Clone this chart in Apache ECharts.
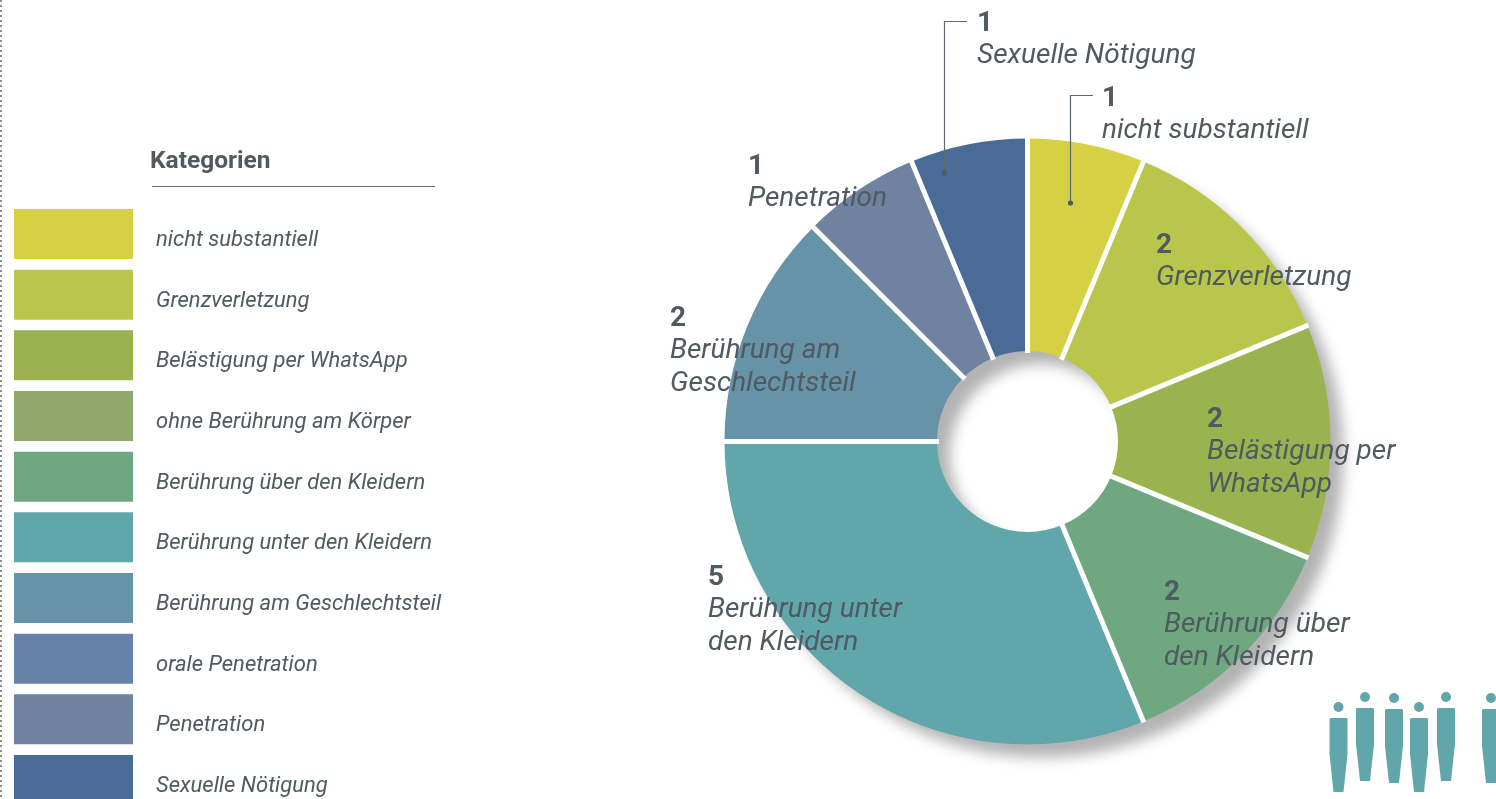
<!DOCTYPE html>
<html>
<head>
<meta charset="utf-8">
<style>html,body{margin:0;padding:0;background:#fff}#chart{width:1496px;height:799px}</style>
<script src="https://cdn.jsdelivr.net/npm/echarts@6/dist/echarts.min.js"></script>
</head>
<body>
<div id="chart"></div>
<script>
var categories = ['nicht substantiell', 'Grenzverletzung', 'Belästigung per WhatsApp', 'ohne Berührung am Körper',
  'Berührung über den Kleidern', 'Berührung unter den Kleidern', 'Berührung am Geschlechtsteil',
  'orale Penetration', 'Penetration', 'Sexuelle Nötigung'];
var values = [1, 2, 2, 0, 2, 5, 2, 0, 1, 1];
var colors = ['#d6d045', '#bac64b', '#9ab34f', '#90a86c', '#6fa781', '#60a6ab', '#6693a8', '#6682ab', '#6f82a0', '#4a6b96'];
// wrapped text of the labels on the slices
var label_lines = [['nicht substantiell'], ['Grenzverletzung'], ['Belästigung per', 'WhatsApp'], [],
  ['Berührung über', 'den Kleidern'], ['Berührung unter', 'den Kleidern'], ['Berührung am', 'Geschlechtsteil'],
  [], ['Penetration'], ['Sexuelle Nötigung']];

var FONT = 'Roboto';
var TEXT = '#4f5a61';
var CX = 1027.5, CY = 441.5, R_OUT = 303, R_IN = 90.5;
var label_xy = [[1102, 84], [1156, 231], [1207, 405], null, [1164, 578], [708, 563], [670, 304], null, [748, 152], [977, 9]];

var chart = echarts.init(document.getElementById('chart'));

function person(cx, top, mid, bottom, head_y) {
  return [
    {type: 'circle', shape: {cx: cx, cy: head_y, r: 5}, style: {fill: '#60a6ab'}},
    {type: 'polygon', shape: {points: [[cx - 9, top + 1], [cx - 8, top], [cx + 8, top], [cx + 9, top + 1], [cx + 9, mid],
      [cx + 5, bottom], [cx - 5, bottom], [cx - 9, mid]]}, style: {fill: '#60a6ab'}}
  ];
}

function leader(x, y, x2, y2) {
  return [
    {type: 'polyline', z: 10, shape: {points: [[x2, y], [x, y], [x, y2]]}, style: {stroke: '#5d676d', lineWidth: 1.2, fill: null}},
    {type: 'circle', z: 10, shape: {cx: x, cy: y2, r: 2.6}, style: {fill: '#4f5a61'}}
  ];
}

// white gaps between the slices, at the angles the data gives
function separators() {
  var total = values.reduce(function(a, b){ return a + b; }, 0);
  var sum = 0, out = [];
  values.forEach(function(v){
    if (v === 0) return;
    var a = sum / total * 2 * Math.PI;
    sum += v;
    out.push({type: 'line', z: 10, shape: {
      x1: CX + (R_IN - 2) * Math.sin(a), y1: CY - (R_IN - 2) * Math.cos(a),
      x2: CX + (R_OUT + 1) * Math.sin(a), y2: CY - (R_OUT + 1) * Math.cos(a)
    }, style: {stroke: '#fff', lineWidth: 5}});
  });
  return out;
}

var decor = [
  {type: 'line', shape: {x1: 1, y1: 0, x2: 1, y2: 799}, style: {stroke: '#666', lineWidth: 1.5, lineDash: [2, 3]}},
  {type: 'text', x: 150, y: 149, style: {text: 'Kategorien', fill: TEXT, font: 'bold 24.5px ' + FONT}},
  {type: 'line', shape: {x1: 152, y1: 186.5, x2: 435, y2: 186.5}, style: {stroke: '#5d676d', lineWidth: 1}}
].concat(
  separators(),
  leader(944.5, 21.5, 967, 173),
  leader(1070.5, 95.5, 1093, 203),
  person(1338.5, 718, 754, 792, 707),
  person(1365, 708, 744, 781, 697),
  person(1394, 709, 746, 783, 698),
  person(1419, 718, 754, 792, 707),
  person(1446, 708, 744, 781, 697),
  person(1491, 709, 746, 783, 698)
);

var slices = categories.map(function(c, i){
  var n = '{n|' + values[i] + '}';
  var t = label_lines[i].map(function(s){ return '{t|' + s + '}'; });
  return {
    name: c,
    value: values[i],
    itemStyle: {color: colors[i]},
    label: {show: values[i] > 0, formatter: [n].concat(t).join('\n')}
  };
});

var option = {
  animation: false,
  color: colors,
  legend: {
    data: categories,
    orient: 'vertical',
    left: 14,
    top: 209,
    height: 640,
    padding: 0,
    itemWidth: 119,
    itemHeight: 50,
    itemGap: 10.67,
    selectedMode: false,
    icon: 'rect',
    // empty first line pushes the name below the middle of the swatch
    formatter: function(name){ return '\n' + name; },
    textStyle: {fontFamily: FONT, fontStyle: 'italic', fontSize: 22, color: TEXT, lineHeight: 13, padding: [0, 0, 0, 18]}
  },
  graphic: decor,
  series: [
    {
      // only casts the shadow under the ring
      type: 'pie',
      silent: true,
      center: [CX, CY],
      radius: [R_IN + 1, R_OUT - 1],
      z: 1,
      label: {show: false},
      labelLine: {show: false},
      itemStyle: {color: '#60a6ab', shadowColor: 'rgba(0,0,0,0.3)', shadowBlur: 14, shadowOffsetX: 14, shadowOffsetY: 14},
      data: [{name: 'Schatten', value: 1}]
    },
    {
      type: 'pie',
      center: [CX, CY],
      radius: [R_IN, R_OUT],
      startAngle: 90,
      z: 2,
      stillShowZeroSum: false,
      avoidLabelOverlap: false,
      labelLine: {show: false},
      label: {
        position: 'inside',
        align: 'left',
        rich: {
          n: {fontFamily: FONT, fontWeight: 'bold', fontSize: 28, color: TEXT, lineHeight: 30, align: 'left'},
          t: {fontFamily: FONT, fontStyle: 'italic', fontSize: 28, color: TEXT, lineHeight: 33, align: 'left'}
        }
      },
      labelLayout: function(p){
        var xy = label_xy[p.dataIndex];
        if (!xy) return {};
        return {x: xy[0], y: xy[1], align: 'left', verticalAlign: 'top', hideOverlap: false};
      },
      data: slices
    }
  ]
};

chart.setOption(option);
</script>
</body>
</html>
